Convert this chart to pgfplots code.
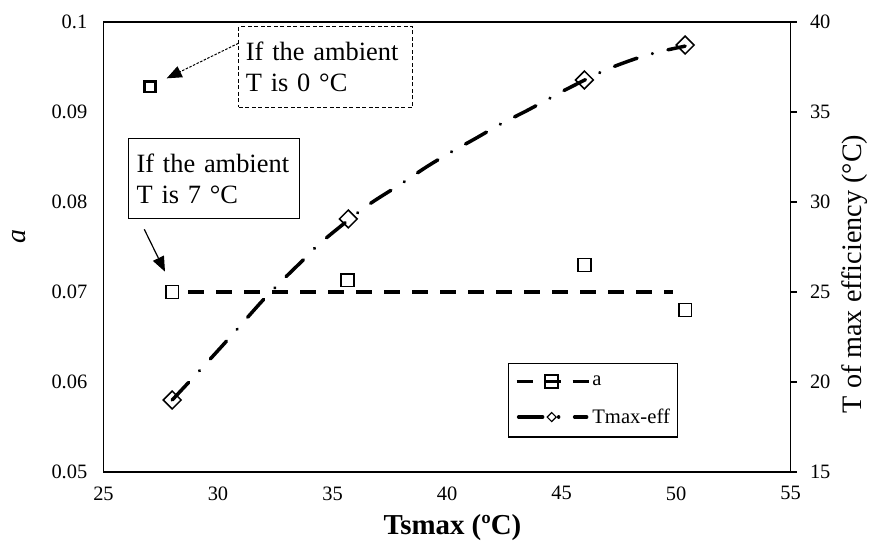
\documentclass[border=0pt]{standalone}
\usepackage{pgfplots}
\pgfplotsset{compat=1.18}
\usepackage{fontspec}
\setmainfont{Liberation Serif}
\usetikzlibrary{arrows.meta}

\pgfplotstableread{
x T
28.00 19.00
29.26 20.72
30.52 22.48
32.20 24.87
34.02 27.15
34.45 27.71
36.42 29.71
37.99 31.00
39.08 31.93
40.13 32.74
41.26 33.54
42.34 34.33
43.48 35.07
44.57 35.82
45.15 36.22
46.83 37.28
48.07 37.89
49.18 38.32
49.81 38.50
50.40 38.66
}\trendT

\pgfplotstableread{
x a
28.00 0.0700
35.66 0.0713
46.00 0.0730
50.40 0.0680
}\dataA

\pgfplotstableread{
x T
28.00 19.00
35.69 29.06
46.00 36.78
50.40 38.72
}\dataT

\begin{document}
\begin{tikzpicture}
\pgfplotsset{
  every axis/.append style={
    scale only axis, width=687bp, height=450bp,
    at={(0bp,0bp)}, anchor=south west,
    xmin=25, xmax=55,
    axis line style={line width=1.6bp},
    tick label style={font=\fontsize{20.5}{24}\selectfont},
    clip=false,
  },
}
\begin{axis}[
  ymin=0.05, ymax=0.1,
  xtick={25,30,35,40,45,50,55},
  xticklabels={25,30,35,40,45,50,55},
  ytick={0.05,0.06,0.07,0.08,0.09,0.1},
  yticklabels={0.05,0.06,0.07,0.08,0.09,0.1},
  major tick length=0bp,
  yticklabel style={xshift=-12.7bp},
  xticklabel style={yshift=-11bp},
  xlabel={\textbf{Tsmax (ºC)}},
  xlabel style={font=\fontsize{29}{32}\selectfont, at={(axis description cs:0.508,-0.1244)}, anchor=center},
  ylabel={\textit{a}},
  ylabel style={font=\fontsize{28}{31}\selectfont, at={(axis description cs:-0.123,0.524)}, anchor=center},
]
\addplot[line width=3.5bp, dash pattern=on 16bp off 12bp, dash phase=12bp] coordinates {(28,0.07) (49.86,0.07)};
\addplot[only marks, mark=square*, mark size=6.4bp, mark options={line width=1.5bp, fill=white, draw=black}] table[x=x,y=a] {\dataA};
\addplot[only marks, mark=square, mark size=5.3bp, mark options={line width=2.6bp, draw=black}] coordinates {(27.03,0.0928)};

\node[draw, line width=1.2bp, dash pattern=on 4bp off 2.5bp, anchor=north west, text width=160bp, inner xsep=7bp, minimum height=80.7bp, align=left, font=\fontsize{26.5}{31}\selectfont] at (axis cs:30.886,0.09956) {If the ambient\\T is 0 °C};
\node[draw, line width=1.2bp, anchor=north west, text width=155.3bp, inner xsep=7.7bp, minimum height=80bp, align=left, font=\fontsize{26.5}{31}\selectfont] at (axis cs:26.083,0.08708) {If the ambient\\T is 7 °C};
\draw[line width=1bp, dash pattern=on 2.5bp off 1.5bp, -{Triangle[length=15bp,width=12bp]}] (axis cs:30.886,0.09763) -- (axis cs:27.76,0.09374);
\draw[line width=1.2bp, -{Triangle[length=15bp,width=12bp]}] (axis cs:26.78,0.07697) -- (axis cs:27.686,0.07226);
\end{axis}

\begin{axis}[
  ymin=15, ymax=40,
  axis y line*=right, axis x line=none,
  ytick={15,20,25,30,35,40},
  yticklabels={15,20,25,30,35,40},
  tick align=outside, major tick length=6bp,
  ytick style={line width=1.2bp, black},
  yticklabel style={xshift=10bp},
  ylabel={T of max efficiency (°C)},
  ylabel style={font=\fontsize{28.3}{31}\selectfont, at={(axis description cs:1.0939,0.44)}, anchor=center},
  legend style={at={(axis description cs:0.5892,0.2416)}, anchor=north west, draw=black, line width=1.2bp,
    font=\fontsize{20.7}{24}\selectfont, inner xsep=6bp, inner ysep=10bp, row sep=18bp},
  legend cell align=left,
]
\addplot[line width=3.5bp, line cap=round, dash pattern=on 24bp off 16bp on 0.01bp off 16bp, smooth, forget plot] table[x=x,y=T] {\trendT};
\addplot[only marks, mark=square, mark size=6.3bp, mark options={rotate=45, line width=1.5bp, draw=black}, forget plot] table[x=x,y=T] {\dataT};

\addlegendimage{legend image code/.code={
  \draw[line width=3.5bp, dash pattern=on 16bp off 12bp] (0bp,0bp) -- (72bp,0bp);
  \draw[line width=1.5bp] (28.6bp,-6.4bp) rectangle (41.4bp,6.4bp);
}}
\addlegendentry{a}
\addlegendimage{legend image code/.code={
  \draw[line width=3.5bp, line cap=round, dash pattern=on 24bp off 16bp on 0.01bp off 16bp] (2bp,0bp) -- (70bp,0bp);
  \draw[line width=1.2bp, fill=white] (35bp,4.5bp) -- (39.5bp,0bp) -- (35bp,-4.5bp) -- (30.5bp,0bp) -- cycle;
}}
\addlegendentry{Tmax-eff}
\end{axis}
\pgfresetboundingbox
\path (-103.5bp,-70bp) rectangle (767.5bp,472bp);
\end{tikzpicture}
\end{document}
